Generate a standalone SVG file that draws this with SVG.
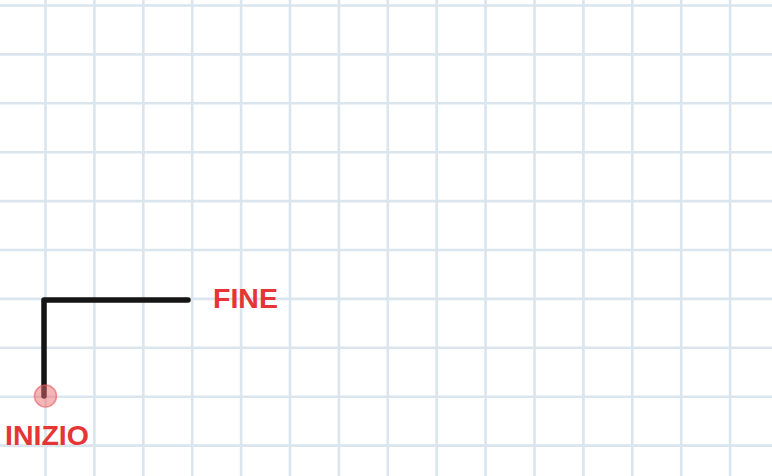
<svg xmlns="http://www.w3.org/2000/svg" width="772" height="476" viewBox="0 0 772 476">
<style>
.g{stroke:#dae5ee;stroke-width:2.6;fill:none}
.lbl{font-family:"Liberation Sans",Arial,sans-serif;font-weight:bold;font-size:28.5px;fill:#e53535}
</style>
<rect width="772" height="476" fill="#ffffff"/>
<g id="grid" class="g">
<path d="M45.5 0V476M94.4 0V476M143.3 0V476M192.2 0V476M241.1 0V476M290 0V476M338.9 0V476M387.8 0V476M436.7 0V476M485.6 0V476M534.5 0V476M583.4 0V476M632.3 0V476M681.2 0V476M730.1 0V476"/>
<path d="M0 5.5H772M0 54.4H772M0 103.3H772M0 152.2H772M0 201.1H772M0 250H772M0 298.9H772M0 347.8H772M0 396.7H772M0 445.6H772"/>
</g>
<g id="connectors">
<path d="M44 396V300H188" fill="none" stroke="#151515" stroke-width="5.5" stroke-linecap="round" stroke-linejoin="round"/>
</g>
<g id="start">
<circle cx="45.5" cy="396" r="11" fill="#ee6b6e" fill-opacity="0.5" stroke="#e8585c" stroke-opacity="0.6" stroke-width="1.5"/>
<text class="lbl" x="5" y="445">INIZIO</text>
</g>
<g id="end">
<text class="lbl" x="213" y="308">FINE</text>
</g>
</svg>
